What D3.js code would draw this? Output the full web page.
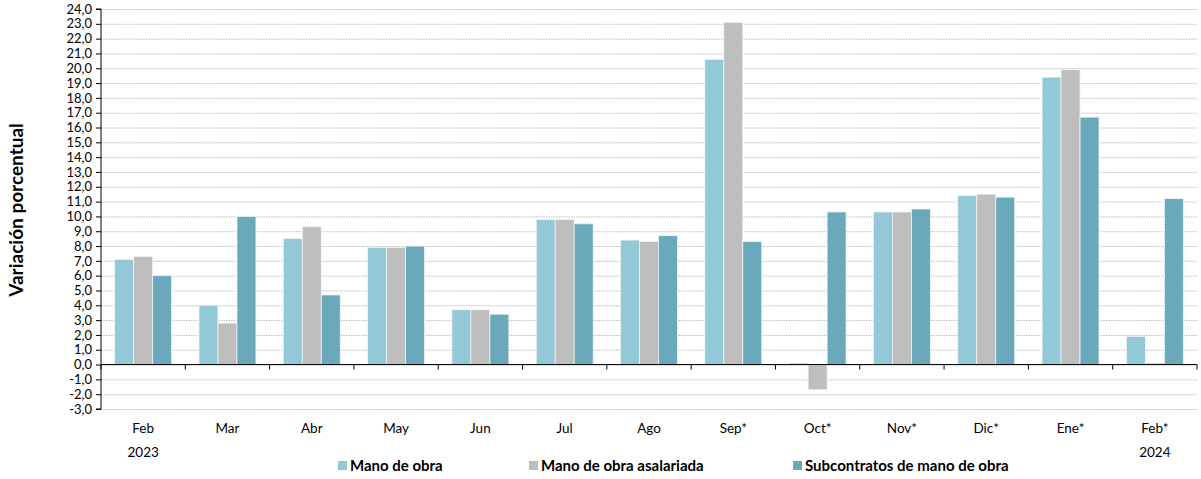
<!DOCTYPE html>
<html>
<head>
<meta charset="utf-8">
<script src="https://cdn.jsdelivr.net/npm/d3@7"></script>
<style>
  body { margin: 0; background: #fff; }
  text { font-family: Lato, "Open Sans", sans-serif; }
</style>
</head>
<body>
<div id="canvas"></div>
<script>
"use strict"

/* Data */
let months = ["Feb", "Mar", "Abr", "May", "Jun", "Jul", "Ago", "Sep*", "Oct*", "Nov*", "Dic*", "Ene*", "Feb*"];
let manoDeObra = [7.1, 4.0, 8.5, 7.9, 3.7, 9.8, 8.4, 20.6, 0.1, 10.3, 11.4, 19.4, 1.9];
let asalariada = [7.3, 2.8, 9.3, 7.9, 3.7, 9.8, 8.3, 23.1, -1.7, 10.3, 11.5, 19.9, 0.1];
let subcontratos = [6.0, 10.0, 4.7, 8.0, 3.4, 9.5, 8.7, 8.3, 10.3, 10.5, 11.3, 16.7, 11.2];
let seriesNames = ["Mano de obra", "Mano de obra asalariada", "Subcontratos de mano de obra"];
let yearLabels = [{ month: 0, text: "2023" }, { month: 12, text: "2024" }];

/* Configuration variables: drawing */
let svgWidth = 1201;
let svgHeight = 479;
let plotLeft = 101, plotRight = 1197, plotTop = 9, plotBottom = 409;
let colors = ["#93c9d6", "#bebebe", "#69a9bb"];

let svg = d3.select("#canvas")
    .append("svg")
    .attr("width", svgWidth)
    .attr("height", svgHeight);

let y = d3.scaleLinear()
    .domain([-3, 24])
    .range([plotBottom, plotTop]);

let x = d3.scaleBand()
    .domain(months.map((m, i) => i))
    .range([plotLeft, plotRight]);

let xInner = d3.scaleBand()
    .domain([0, 1, 2])
    .range([0, x.bandwidth()])
    .paddingOuter(0.72);

/* Gridlines */
svg.append("g")
    .selectAll("line")
    .data(d3.range(-3, 25))
    .join("line")
    .attr("x1", plotLeft)
    .attr("x2", plotRight)
    .attr("y1", d => y(d) + 0.5)
    .attr("y2", d => y(d) + 0.5)
    .attr("stroke", "#bdbdbd")
    .attr("stroke-dasharray", "1.5,1");

/* Bars */
let series = [manoDeObra, asalariada, subcontratos];
series.forEach(function (values, s) {
    svg.append("g")
        .selectAll("rect")
        .data(values)
        .join("rect")
        .attr("x", (d, i) => x(i) + xInner(s))
        .attr("y", d => y(Math.max(0, d)))
        .attr("width", xInner.bandwidth())
        .attr("height", d => Math.abs(y(d) - y(0)))
        .attr("fill", colors[s])
        .attr("stroke", "#eef4f6")
        .attr("stroke-width", 0.8);
});

/* Y axis */
let yAxis = d3.axisLeft(y)
    .tickValues(d3.range(-3, 25))
    .tickSize(5)
    .tickFormat(d => d3.format(".1f")(d).replace(".", ",").replace("−", "-"));

svg.append("g")
    .attr("transform", `translate(${plotLeft},0)`)
    .call(yAxis)
    .call(g => g.select(".domain").attr("stroke", "#000").attr("d", `M-5,${plotTop}H0V${plotBottom}H-5`))
    .call(g => g.selectAll("text").attr("font-size", 13).attr("fill", "#000").attr("dx", -1));

/* X axis at zero */
let zeroLine = svg.append("g").attr("transform", `translate(0,${y(0)})`);
zeroLine.append("line")
    .attr("x1", plotLeft).attr("x2", plotRight)
    .attr("stroke", "#000");
zeroLine.selectAll(".tick")
    .data(d3.range(months.length + 1))
    .join("line")
    .attr("x1", i => i < months.length ? x(i) : plotRight)
    .attr("x2", i => i < months.length ? x(i) : plotRight)
    .attr("y1", 0).attr("y2", 5)
    .attr("stroke", "#000");

svg.append("g")
    .selectAll("text")
    .data(months)
    .join("text")
    .attr("x", (d, i) => x(i) + x.bandwidth() / 2)
    .attr("y", 433)
    .attr("text-anchor", "middle")
    .attr("font-size", 13.5)
    .text(d => d);

svg.append("g")
    .selectAll("text")
    .data(yearLabels)
    .join("text")
    .attr("x", d => x(d.month) + x.bandwidth() / 2)
    .attr("y", 457)
    .attr("text-anchor", "middle")
    .attr("font-size", 13.5)
    .text(d => d.text);

/* Y axis title */
svg.append("text")
    .attr("transform", "translate(23,210) rotate(-90)")
    .attr("text-anchor", "middle")
    .attr("font-size", 19)
    .attr("font-weight", "bold")
    .text("Variación porcentual");

/* Legend */
let legendX = [338, 529, 793];
let legend = svg.append("g")
    .selectAll("g")
    .data(seriesNames)
    .join("g")
    .attr("transform", (d, i) => `translate(${legendX[i]},467)`);
legend.append("rect")
    .attr("x", 0).attr("y", -6)
    .attr("width", 9).attr("height", 9)
    .attr("fill", (d, i) => colors[i]);
legend.append("text")
    .attr("x", 12)
    .attr("y", 4)
    .attr("font-size", 15)
    .attr("font-weight", "bold")
    .text(d => d);
</script>
</body>
</html>
